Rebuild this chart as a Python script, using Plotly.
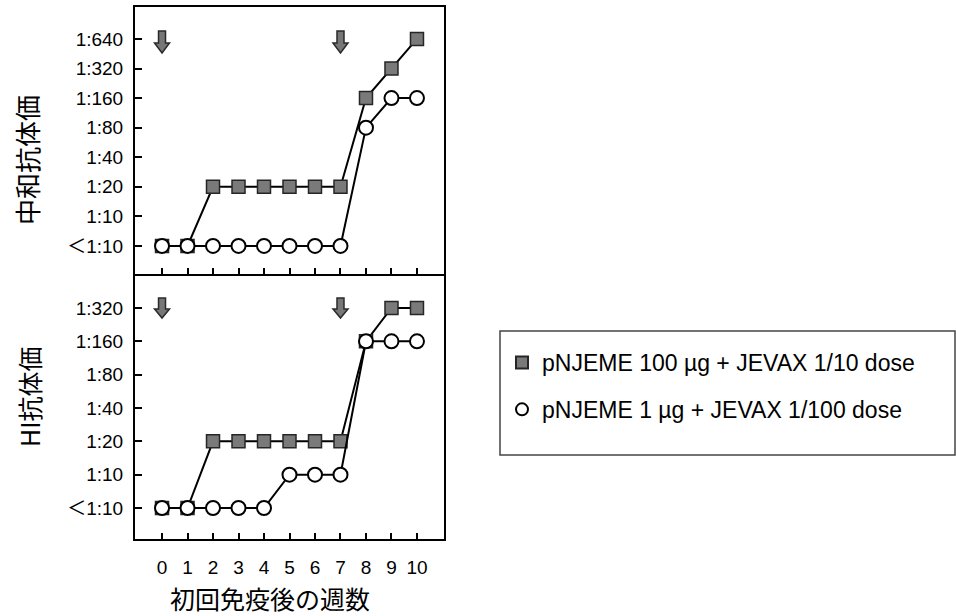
import plotly.graph_objects as go

# ---------------- data ----------------
weeks = [0, 1, 2, 3, 4, 5, 6, 7, 8, 9, 10]
nt_labels = ["＜1:10", "1:10", "1:20", "1:40", "1:80", "1:160", "1:320", "1:640"]
hi_labels = ["＜1:10", "1:10", "1:20", "1:40", "1:80", "1:160", "1:320"]

nt_high = ["＜1:10", "＜1:10", "1:20", "1:20", "1:20", "1:20", "1:20", "1:20", "1:160", "1:320", "1:640"]
nt_low = ["＜1:10", "＜1:10", "＜1:10", "＜1:10", "＜1:10", "＜1:10", "＜1:10", "＜1:10", "1:80", "1:160", "1:160"]
hi_high = ["＜1:10", "＜1:10", "1:20", "1:20", "1:20", "1:20", "1:20", "1:20", "1:160", "1:320", "1:320"]
hi_low = ["＜1:10", "＜1:10", "＜1:10", "＜1:10", "＜1:10", "1:10", "1:10", "1:10", "1:160", "1:160", "1:160"]

dose_weeks = [0, 7]
series_names = ["pNJEME 100 µg + JEVAX 1/10 dose", "pNJEME 1 µg + JEVAX 1/100 dose"]
x_title = "初回免疫後の週数"
nt_title = "中和抗体価"
hi_title = "HI抗体価"

# ---------------- styling ----------------
W, H = 956, 616
FONT = "Liberation Sans, Arial, Noto Sans CJK JP, sans-serif"
CJK = "Noto Sans CJK JP, sans-serif"

sq_marker = dict(symbol="square", size=13, color="#7a7a7a", line=dict(color="#262626", width=1.5))
ci_marker = dict(symbol="circle", size=14, color="white", line=dict(color="black", width=2))
line_style = dict(color="black", width=2)


def lv(labels, vals):
    return [labels.index(v) for v in vals]


fig = go.Figure()

# top panel (neutralizing antibody titer)
fig.add_trace(go.Scatter(x=weeks, y=lv(nt_labels, nt_high), mode="lines+markers", marker=sq_marker,
                         line=line_style, xaxis="x", yaxis="y", showlegend=False))
fig.add_trace(go.Scatter(x=weeks, y=lv(nt_labels, nt_low), mode="lines+markers", marker=ci_marker,
                         line=line_style, xaxis="x", yaxis="y", showlegend=False))
# bottom panel (HI titer)
fig.add_trace(go.Scatter(x=weeks, y=lv(hi_labels, hi_high), mode="lines+markers", marker=sq_marker,
                         line=line_style, xaxis="x2", yaxis="y2", showlegend=False))
fig.add_trace(go.Scatter(x=weeks, y=lv(hi_labels, hi_low), mode="lines+markers", marker=ci_marker,
                         line=line_style, xaxis="x2", yaxis="y2", showlegend=False))

# legend entries (markers only, as in the original)
fig.add_trace(go.Scatter(x=[None], y=[None], mode="markers", marker=sq_marker, name=series_names[0],
                         legendgroup="a", xaxis="x2", yaxis="y2"))
fig.add_trace(go.Scatter(x=[None], y=[None], mode="markers", marker=ci_marker, name=series_names[1],
                         legendgroup="b", xaxis="x2", yaxis="y2"))

# dose arrows
arrow_top = "M -3.5,8 L 3.5,8 L 3.5,-4 L 7.5,-4 L 0,-14 L -7.5,-4 L -3.5,-4 Z"
arrow_bot = "M -3.5,10 L 3.5,10 L 3.5,-1 L 7.5,-1 L 0,-10 L -7.5,-1 L -3.5,-1 Z"
shapes = []
for w in dose_weeks:
    shapes.append(dict(type="path", xref="x", yref="y", xsizemode="pixel", ysizemode="pixel",
                       xanchor=w, yanchor=len(nt_labels) - 1, path=arrow_top,
                       fillcolor="#777777", line=dict(color="#2a2a2a", width=1.5)))
    shapes.append(dict(type="path", xref="x2", yref="y2", xsizemode="pixel", ysizemode="pixel",
                       xanchor=w, yanchor=len(hi_labels) - 1, path=arrow_bot,
                       fillcolor="#777777", line=dict(color="#2a2a2a", width=1.5)))
# legend frame
shapes.append(dict(type="rect", xref="paper", yref="paper", x0=500 / W, x1=955 / W,
                   y0=1 - 455 / H, y1=1 - 331 / H, line=dict(color="#444", width=1.5),
                   fillcolor="rgba(0,0,0,0)"))

x_dom = [135 / W, 444 / W]
top_dom = [1 - 274 / H, 1 - 7 / H]
bot_dom = [1 - 539 / H, 1 - 276 / H]

common_axis = dict(showline=True, linecolor="black", linewidth=2, mirror=True, showgrid=False,
                   zeroline=False, ticks="inside", tickcolor="black", tickwidth=1.5,
                   tickfont=dict(family=FONT, size=19, color="black"))

fig.update_layout(
    width=W, height=H,
    margin=dict(l=0, r=0, t=0, b=0),
    paper_bgcolor="white", plot_bgcolor="white",
    xaxis=dict(domain=x_dom, range=[-1.06, 11.06], anchor="y", tickvals=weeks,
               showticklabels=False, ticklen=6, **common_axis),
    yaxis=dict(domain=top_dom, range=[-0.95, 8.08], anchor="x",
               tickvals=list(range(len(nt_labels))), ticktext=nt_labels, ticklen=7,
               ticklabelstandoff=6, **common_axis),
    xaxis2=dict(domain=x_dom, range=[-1.06, 11.06], anchor="y2", tickvals=weeks,
                ticktext=[str(w) for w in weeks], ticklen=6, ticklabelstandoff=10, **common_axis),
    yaxis2=dict(domain=bot_dom, range=[-0.93, 6.96], anchor="x2",
                tickvals=list(range(len(hi_labels))), ticktext=hi_labels, ticklen=7,
                ticklabelstandoff=6, **common_axis),
    shapes=shapes,
    legend=dict(x=502 / W, y=1 - 386 / H, xanchor="left", yanchor="middle",
                borderwidth=0, bgcolor="rgba(0,0,0,0)",
                font=dict(family=FONT, size=23, color="black"), tracegroupgap=14,
                itemsizing="constant"),
    annotations=[
        dict(text=nt_title, x=27 / W, y=1 - 160 / H, xref="paper", yref="paper", showarrow=False,
             xanchor="center", yanchor="middle",
             textangle=-90, font=dict(family=CJK, size=26, color="black")),
        dict(text=hi_title, x=29 / W, y=1 - 397 / H, xref="paper", yref="paper", showarrow=False,
             xanchor="center", yanchor="middle",
             textangle=-90, font=dict(family=CJK, size=25, color="black")),
        dict(text=x_title, x=270 / W, y=1 - 598 / H, xref="paper", yref="paper", showarrow=False,
             xanchor="center", yanchor="middle",
             font=dict(family=CJK, size=25, color="black")),
    ],
)

fig.write_html("out.html")
